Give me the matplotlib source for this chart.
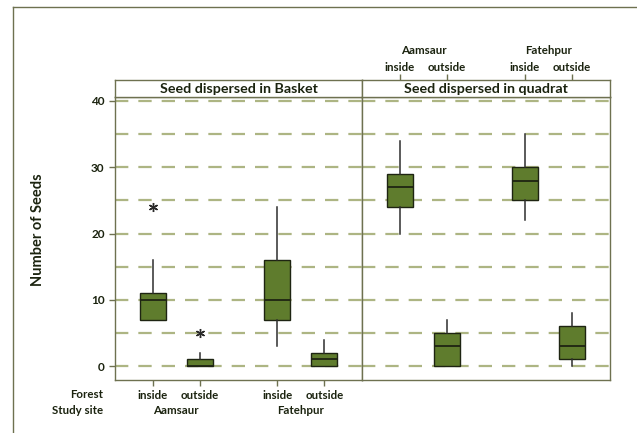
import matplotlib
matplotlib.use("Agg")
import matplotlib.pyplot as plt
from matplotlib.lines import Line2D
from matplotlib.transforms import blended_transform_factory

# ---- data -------------------------------------------------------------
forest = ["inside", "outside", "inside", "outside"]
sites = ["Aamsaur", "Fatehpur"]
panels = ["Seed dispersed in Basket", "Seed dispersed in quadrat"]

basket_q1 = [7, 0, 7, 0]
basket_med = [10, 0, 10, 1]
basket_q3 = [11, 1, 16, 2]
basket_lo = [7, 0, 3, 0]
basket_hi = [16, 2, 24, 4]
basket_out = [[24], [5], [], []]

quadrat_q1 = [24, 0, 25, 1]
quadrat_med = [27, 3, 28, 3]
quadrat_q3 = [29, 5, 30, 6]
quadrat_lo = [20, 0, 22, 0]
quadrat_hi = [34, 7, 35, 8]
quadrat_out = [[], [], [], []]

y_ticks = [0, 10, 20, 30, 40]
grid_levels = [0, 5, 10, 15, 20, 25, 30, 35, 40]

# ---- style ------------------------------------------------------------
FONT = ["Lato", "DejaVu Sans"]
TXT = "#1b230f"
BOX = "#5f7c2d"
GRID = "#adb583"
FRAME = "#6e7150"
positions = [1, 2, 3.65, 4.65]
XLIM = (0.2, 5.45)
YLIM = (-2.1, 40.6)

plt.rcParams["font.family"] = FONT
plt.rcParams["font.weight"] = "bold"

W, H = 637, 433
fig = plt.figure(figsize=(W / 100, H / 100), dpi=100)
fig.patch.set_facecolor("white")


def rect(x0, y0, x1, y1):
    return [x0 / W, 1 - y1 / H, (x1 - x0) / W, (y1 - y0) / H]


# outer frame
fig.add_artist(Line2D([13 / W, 13 / W], [1 - 7 / H, 0], transform=fig.transFigure,
                      color=FRAME, lw=1.0))
fig.add_artist(Line2D([13 / W, 1], [1 - 7 / H, 1 - 7 / H], transform=fig.transFigure,
                      color=FRAME, lw=1.0))


def stats(q1, med, q3, lo, hi, out):
    return [dict(q1=a, med=b, q3=c, whislo=d, whishi=e, fliers=f)
            for a, b, c, d, e, f in zip(q1, med, q3, lo, hi, out)]


panel_stats = [
    stats(basket_q1, basket_med, basket_q3, basket_lo, basket_hi, basket_out),
    stats(quadrat_q1, quadrat_med, quadrat_q3, quadrat_lo, quadrat_hi, quadrat_out),
]

edges = [(115, 362), (362, 610)]
axes = []
for i, (x0, x1) in enumerate(edges):
    ax = fig.add_axes(rect(x0, 97, x1, 380))
    ax.set_xlim(*XLIM)
    ax.set_ylim(*YLIM)
    for lv in grid_levels:
        ax.axhline(lv, color=GRID, lw=1.6, dashes=(6, 4.5), zorder=1)
    ax.bxp(panel_stats[i], positions=positions, widths=0.55, patch_artist=True,
           boxprops=dict(facecolor=BOX, edgecolor="#1e2412", lw=1.0),
           medianprops=dict(color="#1e2412", lw=1.3),
           whiskerprops=dict(color="#2e2e2e", lw=1.1),
           capprops=dict(lw=0),
           flierprops=dict(marker=(6, 2, 0), markersize=6.5, markeredgecolor="#2a2a2a",
                           markerfacecolor="#2a2a2a", markeredgewidth=1.0),
           manage_ticks=False, zorder=3)
    for s in ax.spines.values():
        s.set_color(FRAME)
        s.set_linewidth(1.0)
    ax.set_yticks(y_ticks)
    ax.tick_params(axis="both", colors=FRAME, labelcolor=TXT, length=4, width=1.0,
                   labelsize=8.5, direction="out")
    if i == 0:
        ax.set_yticklabels([str(v) for v in y_ticks], fontweight="bold")
        ax.set_xticks(positions)
        ax.set_xticklabels(forest, fontsize=8.3, fontweight="bold")
        ax.tick_params(axis="x", pad=3)
    else:
        ax.set_yticks([])
        ax.set_xticks([])
    axes.append(ax)

    # panel header strip
    st = fig.add_axes(rect(x0, 80, x1, 97))
    st.set_xlim(*XLIM)
    st.set_yticks([])
    st.set_facecolor("white")
    for s in st.spines.values():
        s.set_color(FRAME)
        s.set_linewidth(1.0)
    st.text(0.5, 0.45, panels[i], transform=st.transAxes, ha="center", va="center",
            fontsize=10.3, fontweight="bold", color=TXT)
    if i == 1:
        st.xaxis.set_ticks_position("top")
        st.set_xticks(positions)
        st.set_xticklabels(forest, fontsize=8.3, fontweight="bold")
        st.tick_params(axis="x", colors=FRAME, labelcolor=TXT, length=4, width=1.0,
                       pad=1, direction="out")
        site_tr = blended_transform_factory(st.transData, fig.transFigure)
        for k, site in enumerate(sites):
            xc = (positions[2 * k] + positions[2 * k + 1]) / 2
            st.text(xc, 1 - 50 / H, site, transform=site_tr, ha="center", va="center",
                    fontsize=8.3, fontweight="bold", color=TXT)
    else:
        st.set_xticks([])

# row labels beneath the first panel
ax0 = axes[0]
bottom_tr = blended_transform_factory(ax0.transData, fig.transFigure)
for k, site in enumerate(sites):
    xc = (positions[2 * k] + positions[2 * k + 1]) / 2
    ax0.text(xc, 1 - 411 / H, site, transform=bottom_tr, ha="center", va="center",
             fontsize=8.3, fontweight="bold", color=TXT)
fig.text(103 / W, 1 - 394 / H, "Forest", ha="right", va="center", fontsize=8.3,
         fontweight="bold", color=TXT)
fig.text(103 / W, 1 - 411 / H, "Study site", ha="right", va="center", fontsize=8.3,
         fontweight="bold", color=TXT)

fig.text(38 / W, 1 - 230 / H, "Number of Seeds", rotation=90, ha="center", va="center",
         fontsize=10.5, fontweight="bold", color=TXT)

fig.savefig("out.png", dpi=100, facecolor="white")
